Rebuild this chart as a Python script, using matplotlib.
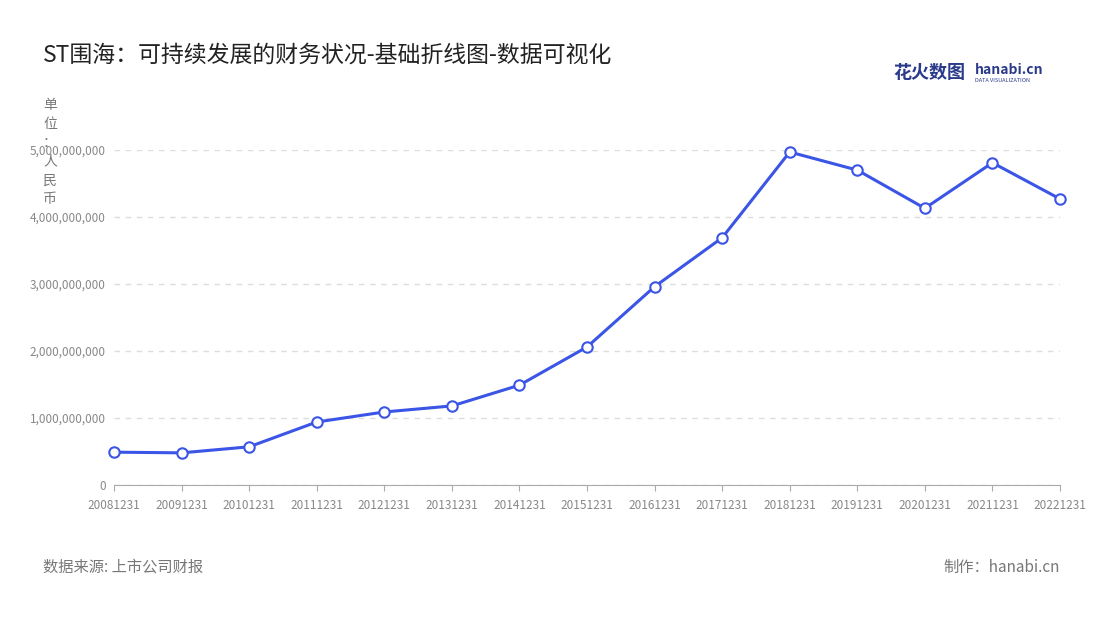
import matplotlib
matplotlib.use("Agg")
import matplotlib.pyplot as plt
from matplotlib.ticker import FuncFormatter

plt.rcParams['font.family'] = ['Noto Sans CJK SC', 'DejaVu Sans']

dates = ["20081231","20091231","20101231","20111231","20121231","20131231","20141231",
         "20151231","20161231","20171231","20181231","20191231","20201231","20211231","20221231"]
values = [0.49e9,0.48e9,0.57e9,0.94e9,1.09e9,1.18e9,1.49e9,2.06e9,2.96e9,3.69e9,
          4.97e9,4.70e9,4.13e9,4.81e9,4.27e9]
yticks = [0,1e9,2e9,3e9,4e9,5e9]

fig = plt.figure(figsize=(11,6.2), dpi=100)
ax = fig.add_axes([114/1100, 1-485/620, (1060-114)/1100, (485-150)/620])
x = list(range(len(dates)))
ax.plot(x, values, color='#3b55e6', lw=2.2, marker='o', ms=7.5,
        mfc='white', mec='#3b55e6', mew=1.5, clip_on=False, zorder=3)
ax.set_xlim(0, len(dates)-1)
ax.set_ylim(0, 5e9)
ax.set_yticks(yticks)
ax.yaxis.set_major_formatter(FuncFormatter(lambda v,p: f"{int(v):,}"))
ax.set_xticks(x)
ax.set_xticklabels(dates)
ax.tick_params(axis='both', labelsize=8.5, colors='#888888', length=0, pad=6)
ax.tick_params(axis='x', length=4, color='#aaaaaa')
ax.grid(axis='y', ls=(0,(4,4)), color='#dddddd', lw=1)
for s in ['top','right','left']:
    ax.spines[s].set_visible(False)
ax.spines['bottom'].set_color('#aaaaaa')

fig.text(43/1100, 1-55/620, "ST围海：可持续发展的财务状况-基础折线图-数据可视化", fontsize=16.5, color='#222222', va='center')
fig.text(50/1100, 1-152/620, "单\n位\n：\n人\n民\n币", fontsize=10, color='#777777', va='center', ha='center', linespacing=1.45)
fig.text(43/1100, 1-567/620, "数据来源: 上市公司财报", fontsize=11, color='#777777', va='center')
fig.text(1060/1100, 1-567/620, "制作：hanabi.cn", fontsize=11, color='#777777', va='center', ha='right')
fig.text(893/1100, 1-72/620, "花火数图", fontsize=13, color='#2b3a8a', va='center', weight='bold')
fig.text(975/1100, 1-70/620, "hanabi.cn", fontsize=10, color='#2b3a8a', va='center', weight='bold')
fig.text(975/1100, 1-80/620, "DATA VISUALIZATION", fontsize=4, color='#2b3a8a', va='center')
fig.savefig("out.png", dpi=100)
